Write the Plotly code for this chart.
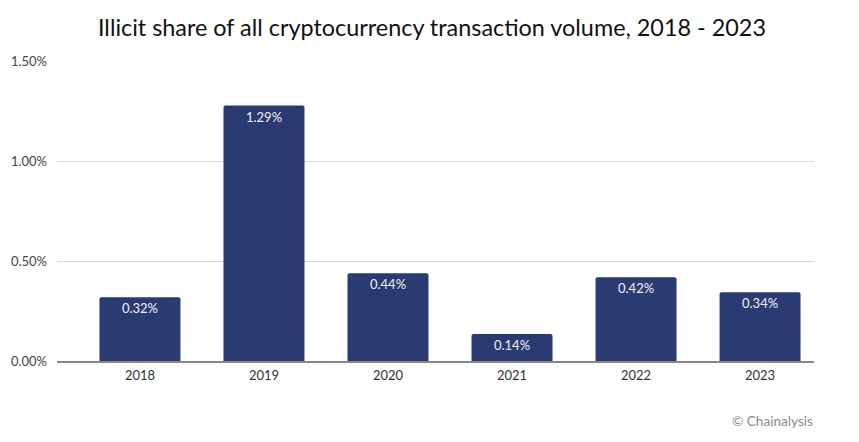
import plotly.graph_objects as go

years = ["2018", "2019", "2020", "2021", "2022", "2023"]
share = [0.32, 1.28, 0.44, 0.135, 0.42, 0.345]
labels = ["0.32%", "1.29%", "0.44%", "0.14%", "0.42%", "0.34%"]
tick_vals = [0, 0.5, 1.0, 1.5]
tick_text = ["0.00%", "0.50%", "1.00%", "1.50%"]

font = "Lato, Noto Sans, sans-serif"

fig = go.Figure()
fig.add_trace(go.Bar(
    x=years, y=share, text=labels,
    textposition="inside", insidetextanchor="end",
    textangle=0,
    textfont=dict(family=font, size=13, color="#f2f2f2"),
    marker=dict(color="#2a3a72", cornerradius=2, line_width=0),
    width=0.653,
))

# page body adds 8px on the left and top, so margins are 8 less than what you see
fig.update_layout(
    width=859, height=442,
    margin=dict(l=49, r=53, t=53, b=89),
    paper_bgcolor="white", plot_bgcolor="white",
    showlegend=False,
    title=dict(text="Illicit share of all cryptocurrency transaction volume, 2018 - 2023",
               x=0.4936, xanchor="center", y=0.955, yanchor="middle",
               font=dict(family=font, size=23.4, color="#111111")),
    annotations=[dict(text="© Chainalysis", xref="paper", yref="paper", x=1.0013, y=-0.2,
                      xanchor="right", yanchor="middle", showarrow=False,
                      font=dict(family=font, size=13.6, color="#8a8a8a"))],
)
fig.update_xaxes(type="category", range=[-0.669, 5.435], showgrid=False, ticks="", automargin=False,
                 showline=True, linecolor="#888888", linewidth=1.5, ticklabelstandoff=2,
                 tickfont=dict(family=font, size=13, color="#333333"))
fig.update_yaxes(range=[0, 1.503], tickvals=tick_vals, ticktext=tick_text, automargin=False,
                 gridcolor="#d8d8d8", gridwidth=1.2, zeroline=False, ticks="", ticklabelstandoff=9,
                 tickfont=dict(family=font, size=13, color="#444444"))

fig.write_html("out.html")
